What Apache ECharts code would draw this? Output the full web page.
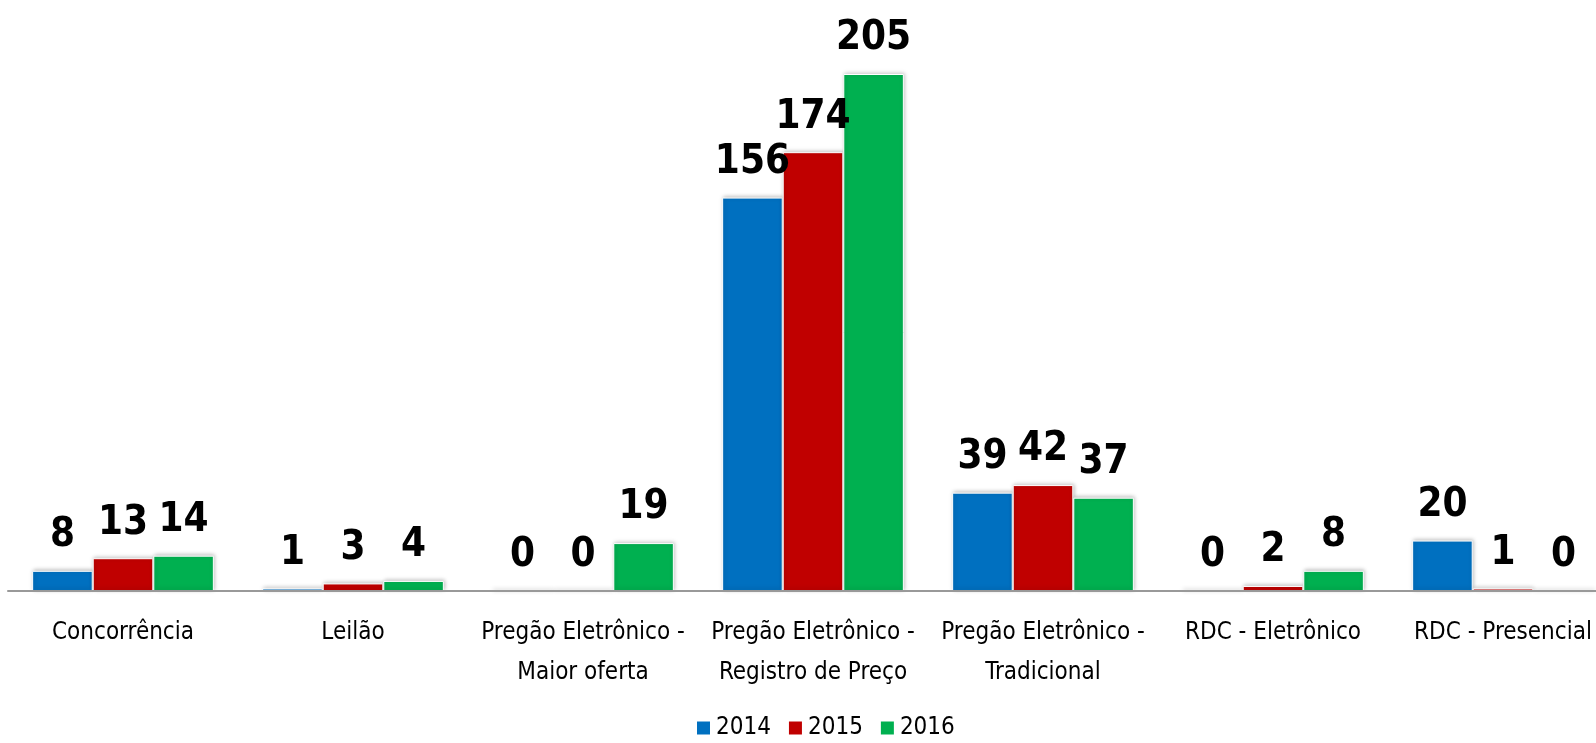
<!DOCTYPE html>
<html>
<head>
<meta charset="utf-8">
<script src="https://cdn.jsdelivr.net/npm/echarts@6/dist/echarts.min.js"></script>
<style>
  html, body { margin: 0; padding: 0; background: #fff; }
  #chart { width: 1596px; height: 743px; }
</style>
</head>
<body>
<div id="chart"></div>
<script>
const categories = [
  'Concorrência',
  'Leilão',
  'Pregão Eletrônico -\nMaior oferta',
  'Pregão Eletrônico -\nRegistro de Preço',
  'Pregão Eletrônico -\nTradicional',
  'RDC - Eletrônico',
  'RDC - Presencial'
]
const years = ['2014', '2015', '2016']
const values2014 = [8, 1, 0, 156, 39, 0, 20]
const values2015 = [13, 3, 0, 174, 42, 2, 1]
const values2016 = [14, 4, 19, 205, 37, 8, 0]
const colors = ['#0070C0', '#C00000', '#00B050']

const font = '"Liberation Sans Narrow", "DejaVu Sans Condensed", sans-serif'

const chart = echarts.init(document.getElementById('chart'))

const makeSeries = (name, data, color) => ({
  name,
  type: 'bar',
  data,
  barGap: 0,
  barCategoryGap: '21%',
  itemStyle: {
    color,
    borderColor: '#fff',
    borderWidth: 1,
    shadowColor: 'rgba(0, 0, 0, 0.25)',
    shadowBlur: 4,
    shadowOffsetX: 1,
    shadowOffsetY: -1
  },
  label: {
    show: true,
    position: 'top',
    distance: 15,
    color: '#000',
    fontFamily: font,
    fontWeight: 'bold',
    fontSize: 40
  }
})

chart.setOption({
  animation: false,
  grid: {
    left: 8,
    width: 1610,
    top: 74,
    bottom: 152,
    outerBoundsMode: 'none',
    containLabel: false
  },
  legend: {
    data: years,
    bottom: -2,
    left: 690,
    itemWidth: 15,
    itemHeight: 15,
    itemGap: 16,
    icon: 'rect',
    textStyle: { fontFamily: font, fontSize: 24, color: '#000' }
  },
  xAxis: {
    type: 'category',
    data: categories,
    z: 5,
    axisLine: { lineStyle: { color: '#999', width: 2 } },
    axisTick: { show: false },
    axisLabel: {
      interval: 0,
      margin: 22,
      fontFamily: font,
      fontSize: 24,
      lineHeight: 40,
      color: '#000'
    }
  },
  yAxis: {
    type: 'value',
    min: 0,
    max: 205,
    show: false,
    splitLine: { show: false }
  },
  series: [
    makeSeries(years[0], values2014, colors[0]),
    makeSeries(years[1], values2015, colors[1]),
    makeSeries(years[2], values2016, colors[2])
  ]
})
</script>
</body>
</html>
